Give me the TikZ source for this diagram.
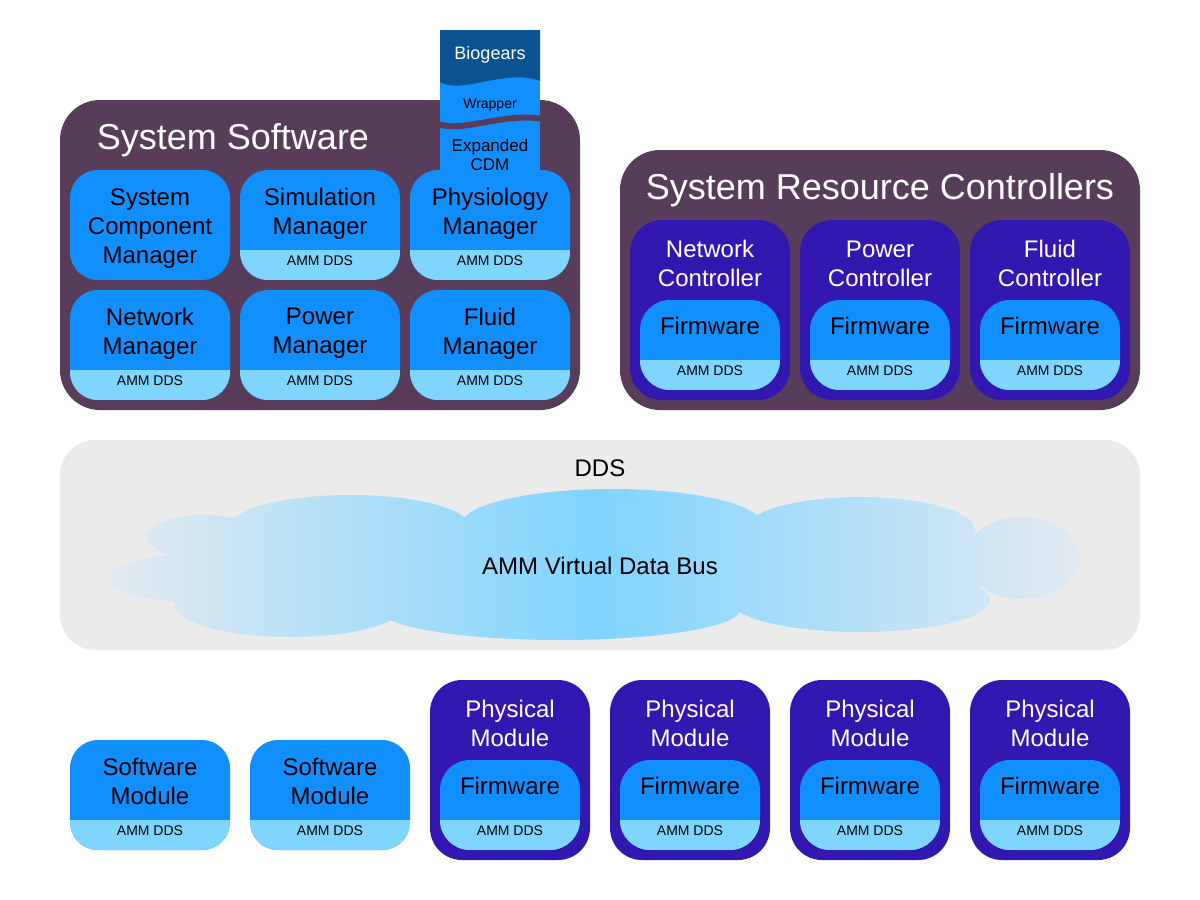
\documentclass[tikz,border=0pt]{standalone}
\usepackage{fontspec}
\setmainfont{Liberation Sans}
\definecolor{sysplum}{RGB}{88,61,91}
\definecolor{ammblue}{RGB}{17,143,255}
\definecolor{ammband}{RGB}{128,213,255}
\definecolor{hwblue}{RGB}{50,24,176}
\definecolor{biogears}{RGB}{10,82,144}
\definecolor{ddsgray}{RGB}{235,235,235}
\definecolor{cloudpale}{RGB}{226,234,240}
\definecolor{cloudblue}{RGB}{128,212,255}
\tikzset{plumpanel/.style={rectangle,fill=sysplum,rounded corners=20pt,inner sep=0pt}}
\tikzset{mgrbox/.style={rectangle,fill=ammblue,rounded corners=14pt,
  minimum width=80pt,minimum height=55pt,inner sep=0pt}}
\tikzset{hwbox/.style={rectangle,fill=hwblue,rounded corners=16pt,
  minimum width=80pt,minimum height=90pt,inner sep=0pt}}
\tikzset{fwbox/.style={rectangle,fill=ammblue,rounded corners=15pt,
  minimum width=70pt,minimum height=45pt,inner sep=0pt}}
\tikzset{dds/.style={path picture={\fill[ammband,sharp corners]
  ([yshift=15pt]path picture bounding box.south west) rectangle
  (path picture bounding box.south east);}}}
\tikzset{lbl/.style={align=center,inner sep=0pt,font=\fontsize{12}{14.5}\selectfont}}
\tikzset{ddstext/.style={inner sep=0pt,font=\fontsize{7}{8}\selectfont}}
\tikzset{paneltitle/.style={white,inner sep=0pt,font=\fontsize{18}{20}\selectfont}}

\begin{document}
\begin{tikzpicture}[x=0.5pt,y=-0.5pt]
  \useasboundingbox (0,0) rectangle (1200,900);

  \node [plumpanel,minimum width=260pt,minimum height=155pt] (soft) at (320,255) {};
  \node [paneltitle] (soft-t) at (233,140) {System Software};
  \node [plumpanel,minimum width=260pt,minimum height=130pt] (res) at (880,280) {};
  \node [paneltitle] (res-t) at (880,190) {System Resource Controllers};

  % biogears stack
  \begin{scope}
    \clip (440,30) rectangle (540,180);
    \fill [ammblue] (440,30) rectangle (540,180);
    \fill [biogears] (440,30) -- (540,30) -- (540,81) .. controls (505,68) and (462,95) .. (440,82) -- cycle;
    \draw [sysplum,line width=3pt] (438,124) .. controls (462,133) and (505,112) .. (542,119);
  \end{scope}
  \node [white,inner sep=0pt,font=\fontsize{9}{11}\selectfont] (bio) at (490,55) {Biogears};
  \node [inner sep=0pt,font=\fontsize{7}{9}\selectfont] (wrap) at (490,105) {Wrapper};
  \node [align=center,inner sep=0pt,font=\fontsize{8.5}{9.5}\selectfont] (cdm) at (490,155) {Expanded\\CDM};

  \node [mgrbox] (scm) at (150,225) {};
  \node [lbl] (scm-t) at (150,228.5) {System\\Component\\Manager};
  \foreach \n/\x/\y/\txt in {sim/320/225/Simulation, phys/490/225/Physiology,
      netm/150/345/Network, powm/320/345/Power, flum/490/345/Fluid} {
    \node [mgrbox,dds] (\n) at (\x,\y) {};
    \node [lbl] (\n-t) at (\x,\y-11.5) {\txt\\Manager};
    \node [ddstext] (\n-dds) at (\x,\y+36) {AMM DDS};
  }

  \foreach \n/\x/\txt in {netc/710/Network, powc/880/Power, fluc/1050/Fluid} {
    \node [hwbox] (\n) at (\x,310) {};
    \node [lbl,white] (\n-t) at (\x,263.5) {\txt\\Controller};
    \node [fwbox,dds] (\n-fw) at (\x,345) {};
    \node [lbl] (\n-fwt) at (\x,326) {Firmware};
    \node [ddstext] (\n-dds) at (\x,371) {AMM DDS};
  }

  % data bus
  \node [fill=ddsgray,rounded corners=17.5pt,minimum width=540pt,minimum height=105pt] (bus) at (600,545) {};
  \node [lbl] (bus-t) at (600,468) {DDS};
  \shade [left color=cloudpale,right color=cloudpale,middle color=cloudblue]
    (205,537) ellipse [x radius=58,y radius=22]
    (195,578) ellipse [x radius=85,y radius=24]
    (350,527) ellipse [x radius=120,y radius=32]
    (612,524) ellipse [x radius=150,y radius=35]
    (860,530) ellipse [x radius=115,y radius=33]
    (1022,558) ellipse [x radius=57,y radius=41]
    (290,605) ellipse [x radius=115,y radius=32]
    (560,610) ellipse [x radius=180,y radius=30]
    (860,600) ellipse [x radius=130,y radius=32]
    (600,565) ellipse [x radius=420,y radius=50];
  \node [lbl] (cloud-t) at (600,566) {AMM Virtual Data Bus};

  \foreach \n/\x in {sw1/150, sw2/330} {
    \node [mgrbox,dds] (\n) at (\x,795) {};
    \node [lbl] (\n-t) at (\x,781.5) {Software\\Module};
    \node [ddstext] (\n-dds) at (\x,831) {AMM DDS};
  }
  \foreach \n/\x in {pm1/510, pm2/690, pm3/870, pm4/1050} {
    \node [hwbox] (\n) at (\x,770) {};
    \node [lbl,white] (\n-t) at (\x,723.5) {Physical\\Module};
    \node [fwbox,dds] (\n-fw) at (\x,805) {};
    \node [lbl] (\n-fwt) at (\x,786) {Firmware};
    \node [ddstext] (\n-dds) at (\x,831) {AMM DDS};
  }
\end{tikzpicture}
\end{document}
